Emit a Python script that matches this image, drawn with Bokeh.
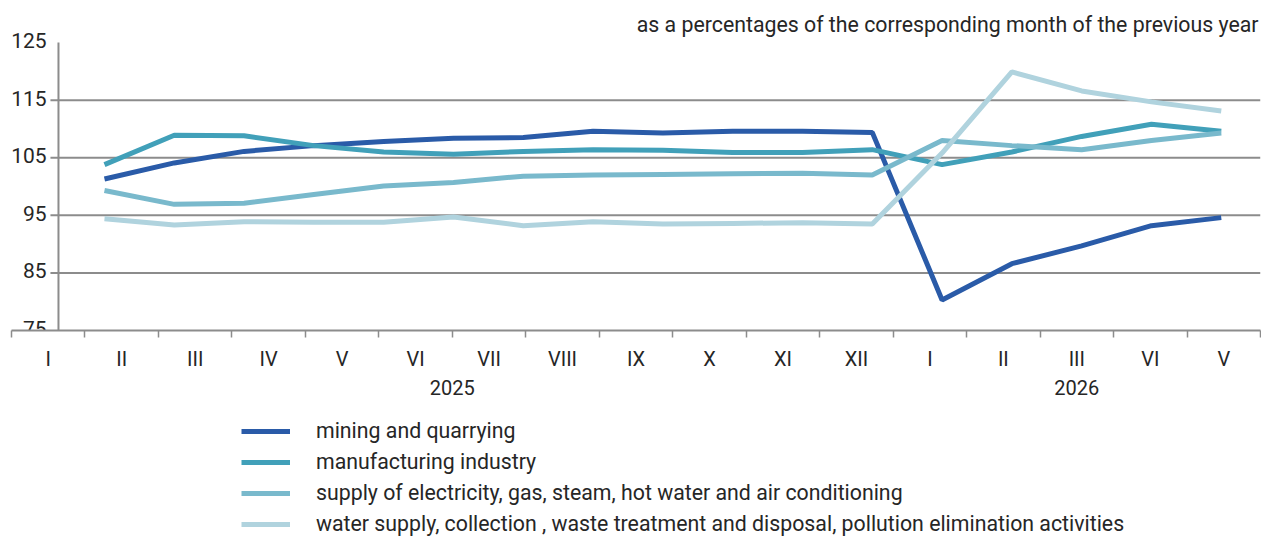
from bokeh.plotting import figure
from bokeh.layouts import column
from bokeh.models import (Range1d, LinearAxis, FixedTicker, Legend, LegendItem,
                          Label)
from bokeh.core.properties import value
from bokeh.embed import file_html
from bokeh.resources import INLINE

# ---------------- data ----------------
months = ["I", "II", "III", "IV", "V", "VI", "VII", "VIII", "IX", "X", "XI", "XII",
          "I", "II", "III", "VI", "V"]
years = ["2025", "2026"]
year_month_counts = [12, 5]

mining = [101.3, 104.1, 106.1, 107.1, 107.8, 108.4, 108.5, 109.6, 109.3, 109.6,
          109.6, 109.4, 80.3, 86.6, 89.7, 93.2, 94.6]
manufacturing = [103.8, 108.9, 108.8, 107.1, 106.0, 105.6, 106.1, 106.4, 106.3, 105.9,
                 105.9, 106.4, 103.8, 106.0, 108.7, 110.8, 109.6]
electricity = [99.3, 96.9, 97.1, 98.6, 100.1, 100.7, 101.8, 102.0, 102.1, 102.2,
               102.3, 102.0, 108.0, 107.1, 106.4, 108.0, 109.3]
water = [94.4, 93.3, 93.9, 93.8, 93.8, 94.7, 93.2, 93.9, 93.5, 93.6,
         93.7, 93.5, 105.8, 119.9, 116.6, 114.7, 113.1]

series_names = ["mining and quarrying",
                "manufacturing industry",
                "supply of electricity, gas, steam, hot water and air conditioning",
                "water supply, collection , waste treatment and disposal, pollution elimination activities"]
series_values = [mining, manufacturing, electricity, water]
series_colors = ["#2a5ba8", "#41a0b9", "#79b9cc", "#b0d3de"]

y_ticks = [75, 85, 95, 105, 115, 125]
title_text = "as a percentages of the corresponding month of the previous year"

# ---------------- layout constants ----------------
FONT = "Roboto"
TXT = "#262626"
GRID = "#8c8c8c"
x_start, x_end = -1.332, 16.562          # data index range across the frame
y_axis_x = -0.659                         # position of the vertical axis line
grid_x0 = -0.774                          # left end of grid lines (tick stubs)
ylab_x = -0.83                            # right edge of y tick labels
y_start, y_end = 75, 132.3

xs = list(range(len(months)))

p = figure(width=1261, height=412,
           x_range=Range1d(x_start, x_end), y_range=Range1d(y_start, y_end),
           x_axis_type=None, y_axis_type=None,
           output_backend="svg", toolbar_location=None,
           min_border_left=11, min_border_right=1, min_border_top=0, min_border_bottom=82)
p.outline_line_color = None
p.background_fill_color = "white"
p.border_fill_color = "white"
p.extra_x_ranges = {"cat": Range1d(0, len(months))}

# grid lines (drawn from tick values)
grid_vals = [v for v in y_ticks if v not in (min(y_ticks), max(y_ticks))]
p.segment(x0=grid_x0, x1=x_end, y0=grid_vals, y1=grid_vals,
          line_color=GRID, line_width=2)
# vertical axis line
p.segment(x0=y_axis_x, x1=y_axis_x, y0=min(y_ticks), y1=max(y_ticks),
          line_color=GRID, line_width=2)
# y tick labels
p.text(x=ylab_x, y=y_ticks, text=[str(v) for v in y_ticks],
       text_align="right", text_baseline="middle", text_font=value(FONT),
       text_font_size="21px", text_color=TXT, y_offset=-2)

for vals, col in zip(series_values, series_colors):
    p.line(xs, vals, line_color=col, line_width=5)

# category axis (months)
centers = [i + 0.5 for i in range(len(months))]
bounds = list(range(len(months) + 1))
ax = LinearAxis(x_range_name="cat",
                ticker=FixedTicker(ticks=centers, minor_ticks=bounds),
                major_label_overrides={c: m for c, m in zip(centers, months)})
ax.axis_line_color = GRID
ax.axis_line_width = 2
ax.major_tick_line_color = None
ax.minor_tick_line_color = GRID
ax.minor_tick_line_width = 1.5
ax.minor_tick_out = 7
ax.minor_tick_in = 0
ax.major_label_standoff = 9
ax.major_label_text_font = FONT
ax.major_label_text_font_size = "20px"
ax.major_label_text_color = TXT
p.add_layout(ax, "below")

# year axis
ycenters = []
acc = 0
for n in year_month_counts:
    ycenters.append(acc + n / 2)
    acc += n
ax2 = LinearAxis(x_range_name="cat", ticker=FixedTicker(ticks=ycenters),
                 major_label_overrides={c: y for c, y in zip(ycenters, years)})
ax2.axis_line_color = None
ax2.major_tick_line_color = None
ax2.minor_tick_line_color = None
ax2.major_label_standoff = 0
ax2.major_label_text_font = FONT
ax2.major_label_text_font_size = "20px"
ax2.major_label_text_color = TXT
p.add_layout(ax2, "below")

p.add_layout(Label(x=x_end, y=128.1, text=title_text, text_align="right",
                   text_baseline="middle", text_font=FONT, text_font_size="21.3px",
                   text_color=TXT, x_offset=-2))

# ---------------- legend (separate strip below) ----------------
q = figure(width=1261, height=124, x_range=Range1d(0, 1), y_range=Range1d(0, 1),
           x_axis_type=None, y_axis_type=None,
           output_backend="svg", toolbar_location=None,
           min_border_left=0, min_border_right=0, min_border_top=0, min_border_bottom=0)
q.outline_line_color = None
q.grid.visible = False
items = []
for name, vals, col in zip(series_names, series_values, series_colors):
    r = q.line(xs, vals, line_color=col, line_width=5, visible=False)
    items.append(LegendItem(label=name, renderers=[r]))
legend = Legend(items=items, location=(230, 0), orientation="vertical",
                glyph_width=49, glyph_height=24, label_height=24,
                label_standoff=26, spacing=6,
                padding=0, margin=0, border_line_color=None,
                background_fill_alpha=0,
                label_text_font=FONT, label_text_font_size="21.3px",
                label_text_color=TXT)
q.add_layout(legend, "center")

open("out.html", "w").write(file_html(column(p, q), INLINE))
